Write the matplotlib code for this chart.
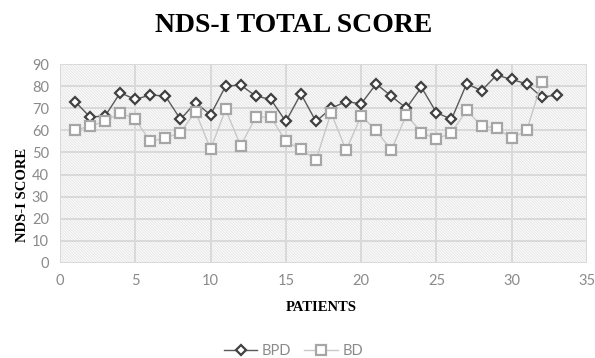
import matplotlib
matplotlib.use("Agg")
import matplotlib.pyplot as plt
from matplotlib.patches import Rectangle

patients_bpd = list(range(1, 34))
bpd = [73, 66, 66.5, 77, 74, 76, 75.5, 65, 72.5, 67, 80, 80.5, 75.5, 74, 64, 76.5,
       64, 70, 73, 72, 81, 75.5, 70, 79.5, 68, 65, 81, 78, 85, 83, 81, 75, 76]
patients_bd = list(range(1, 33))
bd = [60, 62, 64, 68, 65, 55, 56.5, 59, 68.5, 51.5, 69.5, 53, 66, 66, 55, 51.5,
      46.5, 68, 51, 66.5, 60, 51, 67, 59, 56, 59, 69, 62, 61, 56.5, 60, 82]

plt.rcParams['hatch.linewidth'] = 0.5
plt.rcParams['hatch.color'] = '#e0e0e0'

fig = plt.figure(figsize=(5.95, 3.58), dpi=100)
ax = fig.add_axes([0.1008, 0.2654, 0.8858, 0.5558])
ax.set_xlim(0, 35)
ax.set_ylim(0, 90)

bg = Rectangle((0, 0), 1, 1, transform=ax.transAxes, facecolor='#fbfbfb',
               edgecolor='#e0e0e0', hatch='\\' * 12, linewidth=0, zorder=0)
ax.add_patch(bg)

ax.set_xticks(range(0, 36, 5))
ax.set_yticks(range(0, 91, 10))
ax.grid(True, color='#d9d9d9', linewidth=1.4, zorder=1)
ax.set_axisbelow(True)
for s in ax.spines.values():
    s.set_visible(False)
ax.tick_params(length=0, labelsize=10.5, labelcolor='#8a8a8a', pad=8)
for lab in ax.get_xticklabels() + ax.get_yticklabels():
    lab.set_family('Lato')

ax.plot(patients_bpd, bpd, color='#595959', linewidth=1.0, marker='D', markersize=5.5,
        markerfacecolor='white', markeredgecolor='#404040', markeredgewidth=1.6,
        label='BPD', zorder=3)
ax.plot(patients_bd, bd, color='#c8c8c8', linewidth=1.0, marker='s', markersize=7,
        markerfacecolor='white', markeredgecolor='#a6a6a6', markeredgewidth=1.6,
        label='BD', zorder=4)

fig.text(0.494, 0.93, 'NDS-I TOTAL SCORE', ha='center', va='center',
         family='Liberation Serif', fontweight='bold', fontsize=20)
fig.text(0.038, 0.455, 'NDS-I SCORE', ha='center', va='center', rotation=90,
         family='Liberation Serif', fontweight='bold', fontsize=10.5)
fig.text(0.54, 0.14, 'PATIENTS', ha='center', va='center',
         family='Liberation Serif', fontweight='bold', fontsize=10.5)

leg = fig.legend(loc='center', bbox_to_anchor=(0.493, 0.02), ncol=2, frameon=False,
                 handlelength=2.3, columnspacing=0.9, handletextpad=0.3,
                 prop={'family': 'Lato', 'size': 10.5})
for t in leg.get_texts():
    t.set_color('#8a8a8a')

fig.savefig('out.png', dpi=100)
